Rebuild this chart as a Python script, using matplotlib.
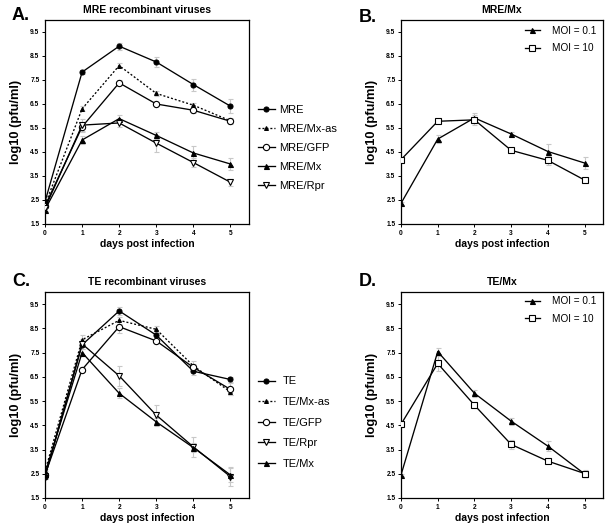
import numpy as np
import matplotlib.pyplot as plt

plt.rcParams['font.family'] = ['Liberation Sans', 'DejaVu Sans']

days = [0, 1, 2, 3, 4, 5]

# panel A: MRE recombinant viruses
mre = [2.43, 7.83, 8.91, 8.25, 7.31, 6.41]
mre_mx_as = [2.30, 6.30, 8.10, 6.94, 6.45, 5.80]
mre_gfp = [2.25, 5.55, 7.38, 6.50, 6.24, 5.78]
mre_mx = [2.10, 5.00, 5.89, 5.19, 4.46, 4.00]
mre_rpr = [2.16, 5.62, 5.71, 4.87, 4.06, 3.24]
err_mre = [0.10, 0.10, 0.15, 0.20, 0.25, 0.30]
err_mre_mx_as = [0.10, 0.10, 0.10, 0.10, 0.10, 0.10]
err_mre_gfp = [0.10, 0.20, 0.10, 0.10, 0.10, 0.10]
err_mre_mx = [0.10, 0.15, 0.15, 0.15, 0.30, 0.25]
err_mre_rpr = [0.10, 0.25, 0.15, 0.35, 0.20, 0.15]

# panel B: MRE/Mx
b_moi01 = [2.36, 5.04, 5.92, 5.25, 4.52, 4.04]
b_moi10 = [4.18, 5.78, 5.84, 4.57, 4.15, 3.33]
err_b_moi01 = [0.05, 0.15, 0.20, 0.10, 0.30, 0.25]
err_b_moi10 = [0.05, 0.05, 0.20, 0.05, 0.20, 0.05]

# panel C: TE recombinant viruses
te = [2.38, 7.82, 9.22, 8.22, 6.73, 6.39]
te_mx_as = [2.60, 8.03, 8.83, 8.46, 6.95, 5.88]
te_gfp = [2.45, 6.80, 8.57, 7.98, 6.89, 5.98]
te_rpr = [2.40, 7.86, 6.54, 4.92, 3.61, 2.38]
te_mx = [2.50, 7.50, 5.82, 4.64, 3.58, 2.45]
err_te = [0.10, 0.10, 0.15, 0.15, 0.15, 0.10]
err_te_mx_as = [0.10, 0.20, 0.15, 0.15, 0.20, 0.15]
err_te_gfp = [0.10, 0.10, 0.25, 0.10, 0.15, 0.25]
err_te_rpr = [0.10, 0.20, 0.40, 0.40, 0.40, 0.40]
err_te_mx = [0.10, 0.15, 0.20, 0.15, 0.20, 0.30]

# panel D: TE/Mx
d_moi01 = [2.45, 7.54, 5.82, 4.67, 3.64, 2.49]
d_moi10 = [4.54, 7.05, 5.33, 3.71, 3.02, 2.51]
err_d_moi01 = [0.05, 0.15, 0.15, 0.15, 0.20, 0.10]
err_d_moi10 = [0.10, 0.30, 0.10, 0.20, 0.05, 0.15]

yticks = [1.5, 2.5, 3.5, 4.5, 5.5, 6.5, 7.5, 8.5, 9.5]

STYLES = {
    'filled_circle': dict(marker='o', mfc='black', mec='black', ms=3.6, ls='-'),
    'dotted_tri': dict(marker='^', mfc='black', mec='black', ms=2.8, ls=(0, (1.5, 1.5))),
    'open_circle': dict(marker='o', mfc='white', mec='black', ms=4.5, ls='-'),
    'filled_tri': dict(marker='^', mfc='black', mec='black', ms=3.6, ls='-'),
    'open_dtri': dict(marker='v', mfc='white', mec='black', ms=4.5, ls='-'),
    'open_square': dict(marker='s', mfc='white', mec='black', ms=4.5, ls='-'),
}

W, H = 613, 531


def draw_panel(ax, series, title):
    for y, err, label, style in series:
        ax.errorbar(days, y, yerr=err, fmt='none', ecolor='#c8c8c8',
                    elinewidth=0.8, capsize=1.8, capthick=0.8, zorder=1)
        ax.plot(days, y, color='black', lw=0.95, mew=0.8, label=label,
                zorder=3, **STYLES[style])
    ax.set_xlim(0, 5.5)
    ax.set_ylim(1.5, 10)
    ax.set_xticks(days)
    ax.set_yticks(yticks)
    ax.set_yticklabels([f'{v:.1f}' for v in yticks])
    ax.tick_params(labelsize=4.8, length=2.5, width=0.7, pad=1.5)
    for lab in ax.get_xticklabels() + ax.get_yticklabels():
        lab.set_fontweight('bold')
    for s in ax.spines.values():
        s.set_linewidth(0.9)
    ax.text(0.5, 1.05, title, transform=ax.transAxes, fontsize=7.5,
            fontweight='bold', ha='center', va='center')
    ax.set_xlabel('days post infection', fontsize=7.5, fontweight='bold', labelpad=2)
    ax.set_ylabel('log10 (pfu/ml)', fontsize=9.3, fontweight='bold', labelpad=6)


fig = plt.figure(figsize=(W / 100, H / 100), dpi=100)
axA = fig.add_axes([45 / W, 1 - 224 / H, 204 / W, 204 / H])
axB = fig.add_axes([401 / W, 1 - 224 / H, 202 / W, 204 / H])
axC = fig.add_axes([45 / W, 1 - 498 / H, 204 / W, 206 / H])
axD = fig.add_axes([401 / W, 1 - 498 / H, 202 / W, 206 / H])

draw_panel(axA, [
    (mre, err_mre, 'MRE', 'filled_circle'),
    (mre_mx_as, err_mre_mx_as, 'MRE/Mx-as', 'dotted_tri'),
    (mre_gfp, err_mre_gfp, 'MRE/GFP', 'open_circle'),
    (mre_mx, err_mre_mx, 'MRE/Mx', 'filled_tri'),
    (mre_rpr, err_mre_rpr, 'MRE/Rpr', 'open_dtri'),
], 'MRE recombinant viruses')

draw_panel(axB, [
    (b_moi01, err_b_moi01, 'MOI = 0.1', 'filled_tri'),
    (b_moi10, err_b_moi10, 'MOI = 10', 'open_square'),
], 'MRE/Mx')

draw_panel(axC, [
    (te, err_te, 'TE', 'filled_circle'),
    (te_mx_as, err_te_mx_as, 'TE/Mx-as', 'dotted_tri'),
    (te_gfp, err_te_gfp, 'TE/GFP', 'open_circle'),
    (te_rpr, err_te_rpr, 'TE/Rpr', 'open_dtri'),
    (te_mx, err_te_mx, 'TE/Mx', 'filled_tri'),
], 'TE recombinant viruses')

draw_panel(axD, [
    (d_moi01, err_d_moi01, 'MOI = 0.1', 'filled_tri'),
    (d_moi10, err_d_moi10, 'MOI = 10', 'open_square'),
], 'TE/Mx')

# panel letters
for letter, px, py in [('A.', 12, 16), ('B.', 359, 17), ('C.', 12, 281), ('D.', 359, 281)]:
    fig.text(px / W, 1 - py / H, letter, fontsize=13, fontweight='bold',
             ha='left', va='center')

for ax, top, sp, tp in ((axA, 0.585, 0.82, 0.4), (axC, 0.59, 0.95, 0.7)):
    ax.legend(loc='upper left', bbox_to_anchor=(1.044, top), frameon=False,
              fontsize=8, handlelength=1.5, handletextpad=tp,
              labelspacing=sp, borderpad=0, borderaxespad=0)
for ax, top in ((axB, 0.972), (axD, 0.98)):
    ax.legend(loc='upper right', bbox_to_anchor=(0.965, top), frameon=False,
              fontsize=7.2, handlelength=1.5, handletextpad=1.2,
              labelspacing=0.75, borderpad=0, borderaxespad=0)

fig.savefig('out.png', dpi=100, facecolor='white')
